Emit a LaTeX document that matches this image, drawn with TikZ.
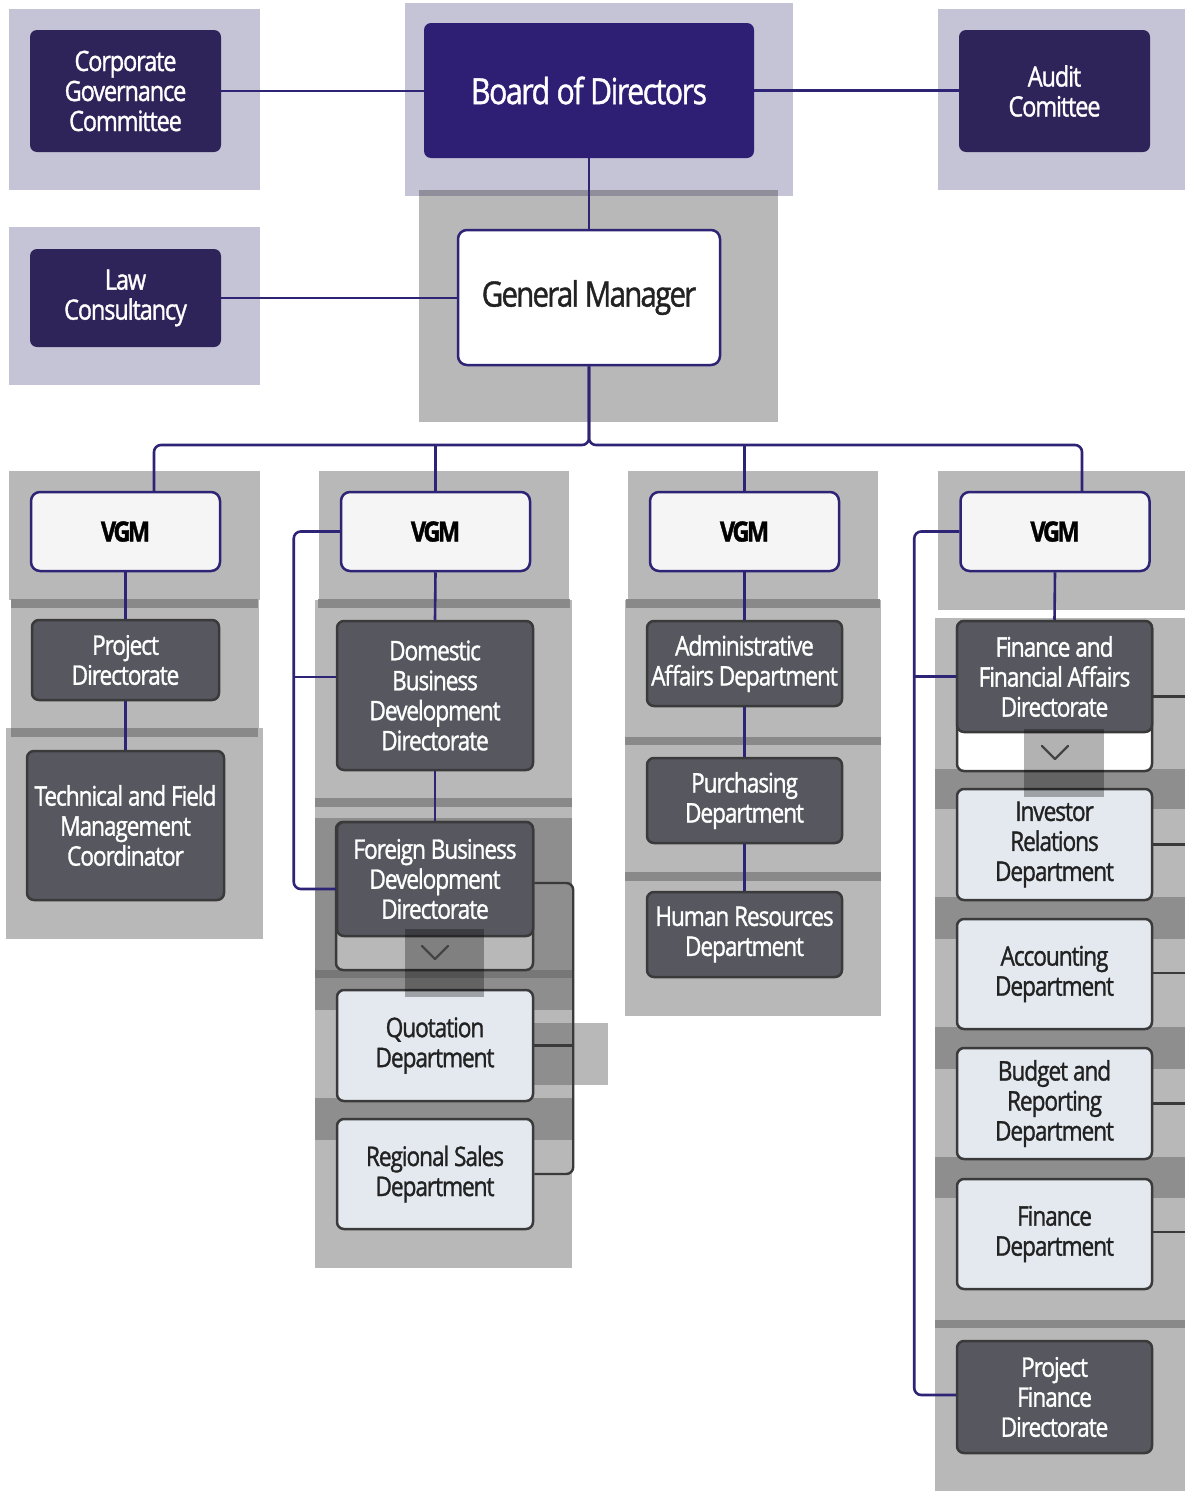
\documentclass[tikz,border=0pt]{standalone}
\usepackage{fontspec}
\setmainfont{Open Sans}[FakeStretch=0.84, LetterSpace=-4, FakeBold=1.2]
\usetikzlibrary{calc}
\definecolor{lav}{HTML}{C5C3D6}
\definecolor{lavstrip}{HTML}{8F8E9A}
\definecolor{navy}{HTML}{2E2475}
\definecolor{cgcfill}{HTML}{2E2459}
\definecolor{boardfill}{HTML}{2E1F75}
\definecolor{lgray}{HTML}{B8B8B8}
\definecolor{mgray}{HTML}{8E8E8E}
\definecolor{sgray}{HTML}{898989}
\definecolor{xgray}{HTML}{777777}
\definecolor{dfill}{HTML}{575760}
\definecolor{dedge}{HTML}{3A3A3A}
\definecolor{lfill}{HTML}{E3E9EF}
\definecolor{vfill}{HTML}{F5F5F5}
\definecolor{txt}{HTML}{222222}
\definecolor{chev}{HTML}{444444}
\tikzset{
 base/.style={inner sep=0pt, align=center, rounded corners=7},
 navybox/.style={base, fill=cgcfill, text=white, font=\fontsize{28}{30}\selectfont},
 boardbox/.style={base, fill=boardfill, text=white, font=\fontsize{36}{40}\selectfont},
 gmbox/.style={base, fill=white, draw=navy, line width=2.5, rounded corners=9, text=txt, font=\fontsize{35}{40}\selectfont\addfontfeatures{LetterSpace=-5}},
 vgmbox/.style={base, fill=vfill, draw=navy, line width=2.5, rounded corners=9, text=black, font=\fontsize{28}{30}\selectfont\bfseries\addfontfeatures{LetterSpace=-9}, minimum width=189, minimum height=79},
 darkbox/.style={base, fill=dfill, draw=dedge, line width=2.5, text=white, font=\fontsize{27}{30}\selectfont},
 lightbox/.style={base, fill=lfill, draw=dedge, line width=2.5, text=txt, font=\fontsize{27}{30}\selectfont},
 nline/.style={draw=navy, line width=2.6},
 gline/.style={draw=dedge, line width=2.4},
 chevline/.style={draw=chev, line width=2.4, line cap=round, line join=round},
 shade/.style={fill=black, opacity=0.3},
}
\begin{document}
\begin{tikzpicture}[x=1pt,y=-1pt]
\useasboundingbox (0,0) rectangle (1185,1491);
\clip (0,0) rectangle (1185,1491);
\fill[white] (0,0) rectangle (1185,1491);

% ---------- top panels ----------
\fill[lav] (9,9) rectangle (260,190);
\fill[lav] (9,227) rectangle (260,385);
\fill[lav] (405,3) rectangle (793,196);
\fill[lav] (938,9) rectangle (1185,190);
\fill[lgray] (419,196) rectangle (778,422);
\fill[lavstrip] (419,190) rectangle (778,196);

% ---------- column 1 panels ----------
\fill[lgray] (9,471) rectangle (260,600);
\fill[lgray] (11,600) rectangle (259,728);
\fill[sgray] (11,599) rectangle (258,608);
\fill[lgray] (6,728) rectangle (263,939);
\fill[sgray] (11,728) rectangle (258,737);

% ---------- column 2 panels ----------
\fill[lgray] (319,471) rectangle (569,600);
\fill[lgray] (315,600) rectangle (572,1268);
\fill[sgray] (318,599) rectangle (570,608);
\fill[sgray] (315,798) rectangle (572,807);
\fill[mgray] (315,818) rectangle (572,1010);
\fill[xgray] (315,970) rectangle (572,978);
\fill[mgray] (533,1023) rectangle (572,1085);
\fill[lgray] (572,1023) rectangle (608,1085);
\fill[mgray] (315,1098) rectangle (572,1140);

% ---------- column 3 panels ----------
\fill[lgray] (628,471) rectangle (878,600);
\fill[lgray] (625,600) rectangle (881,1016);
\fill[sgray] (626,599) rectangle (880,608);
\fill[sgray] (625,737) rectangle (881,745);
\fill[sgray] (625,872) rectangle (881,881);

% ---------- column 4 panels ----------
\fill[lgray] (938,471) rectangle (1185,610);
\fill[lgray] (935,618) rectangle (1185,1491);
\fill[mgray] (935,769) rectangle (1185,809);
\fill[mgray] (935,897) rectangle (1185,939);
\fill[mgray] (935,1027) rectangle (1185,1069);
\fill[mgray] (935,1157) rectangle (1185,1198);
\fill[sgray] (935,1320) rectangle (1185,1328);

% ---------- nodes ----------
\node[navybox, minimum width=191, minimum height=122] (cgc) at (125.5,91) {Corporate\\Governance\\Committee};
\node[boardbox, minimum width=330, minimum height=135] (bod) at (589,90.5) {Board of Directors};
\node[navybox, minimum width=191, minimum height=122] (aud) at (1054.5,91) {Audit\\Comittee};
\node[navybox, minimum width=191, minimum height=98] (law) at (125.5,298) {Law\\Consultancy};
\node[gmbox, minimum width=262, minimum height=135] (gm) at (589,297.5) {General Manager};
\coordinate (bus) at (589,445);

\node[vgmbox] (v1) at (125.5,531.5) {VGM};
\node[vgmbox] (v2) at (435.5,531.5) {VGM};
\node[vgmbox] (v3) at (744.5,531.5) {VGM};
\node[vgmbox] (v4) at (1055,531.5) {VGM};

% column 1
\node[darkbox, minimum width=187, minimum height=80] (pd) at (125.5,660) {Project\\Directorate};
\node[darkbox, minimum width=197, minimum height=149] (tf) at (125.5,825.5) {Technical and Field\\Management\\Coordinator};

% column 2
\node[darkbox, minimum width=196, minimum height=149] (dom) at (435,695.5) {Domestic\\Business\\Development\\Directorate};
\draw[dedge, line width=2.5, fill=lgray, rounded corners=7] (336,822) rectangle (533,970);
\node[darkbox, minimum width=196, minimum height=114] (fbd) at (435,879) {Foreign Business\\Development\\Directorate};
\node[lightbox, minimum width=196, minimum height=111] (quo) at (435,1045.5) {Quotation\\Department};
\node[lightbox, minimum width=196, minimum height=110] (reg) at (435,1174) {Regional Sales\\Department};

% column 3
\node[darkbox, minimum width=195, minimum height=85] (adm) at (744.5,663.5) {Administrative\\Affairs Department};
\node[darkbox, minimum width=195, minimum height=85] (pur) at (744.5,800.5) {Purchasing\\Department};
\node[darkbox, minimum width=195, minimum height=85] (hr) at (744.5,934.5) {Human Resources\\Department};

% column 4
\draw[dedge, line width=2.5, fill=white, rounded corners=7] (957,621) rectangle (1152,771);
\node[darkbox, minimum width=195, minimum height=111] (ffa) at (1054.5,676.5) {Finance and\\Financial Affairs\\Directorate};
\node[lightbox, minimum width=195, minimum height=111] (ir) at (1054.5,844.5) {Investor\\Relations\\Department};
\node[lightbox, minimum width=195, minimum height=110] (acc) at (1054.5,974) {Accounting\\Department};
\node[lightbox, minimum width=195, minimum height=111] (bud) at (1054.5,1103.5) {Budget and\\Reporting\\Department};
\node[lightbox, minimum width=195, minimum height=110] (fin) at (1054.5,1234) {Finance\\Department};
\node[darkbox, minimum width=195, minimum height=112] (pfd) at (1054.5,1397) {Project\\Finance\\Directorate};

% ---------- connectors ----------
\draw[nline] (cgc.east) -- (cgc.east -| bod.west);
\draw[nline] (bod.east) -- (bod.east -| aud.west);
\draw[nline] (bod.south) -- (gm.north);
\draw[nline] (law.east) -- (law.east -| gm.west);
\draw[nline, rounded corners=7] ($(v1.north)+(28.5,0)$) |- (bus) -- (gm.south);
\draw[nline, rounded corners=7] ($(v4.north)+(27,0)$) |- (bus) -- (gm.south);
\draw[nline] (v2.north) -- (v2.north |- bus);
\draw[nline] (v3.north) -- (v3.north |- bus);

\draw[nline] (v1.south) -- (pd.north);
\draw[nline] (pd.south) -- (tf.north);

\draw[nline] (v2.south) -- (dom.north);
\draw[nline] (dom.south) -- (fbd.north);
\draw[nline, rounded corners=7] (v2.west) -- ++(-46,0) |- ($(fbd.west)+(0,10)$);
\draw[nline] ($(dom.west)+(0,-18.5)$) -- ++(-42,0);
\draw[gline, rounded corners=7] ($(fbd.east)+(0,4)$) -- ++(39,0) |- (reg.east);
\draw[gline] (quo.east) -- ++(39,0);

\draw[nline] (v3.south) -- (adm.north);
\draw[nline] (adm.south) -- (pur.north);
\draw[nline] (pur.south) -- (hr.north);

\draw[nline] (v4.south) -- (ffa.north);
\draw[nline, rounded corners=7] (v4.west) -- ++(-45,0) |- ($(pfd.west)+(0,-2)$);
\draw[nline] (ffa.west) -- ++(-42,0);
\draw[gline] ($(ffa.east)+(0,20)$) -- ++(40,0);
\draw[gline] (ir.east) -- ++(40,0);
\draw[gline] ($(acc.east)+(0,-1)$) -- ++(40,0);
\draw[gline] (bud.east) -- ++(40,0);
\draw[gline] ($(fin.east)+(0,-2)$) -- ++(40,0);

% ---------- collapse buttons ----------
\fill[shade] (405,929) rectangle (484,997);
\draw[chevline] (422,946) -- (435,959) -- (448,946);
\fill[shade] (1024,729) rectangle (1104,797);
\draw[chevline] (1042,746) -- (1055,759) -- (1068,746);
\end{tikzpicture}
\end{document}
